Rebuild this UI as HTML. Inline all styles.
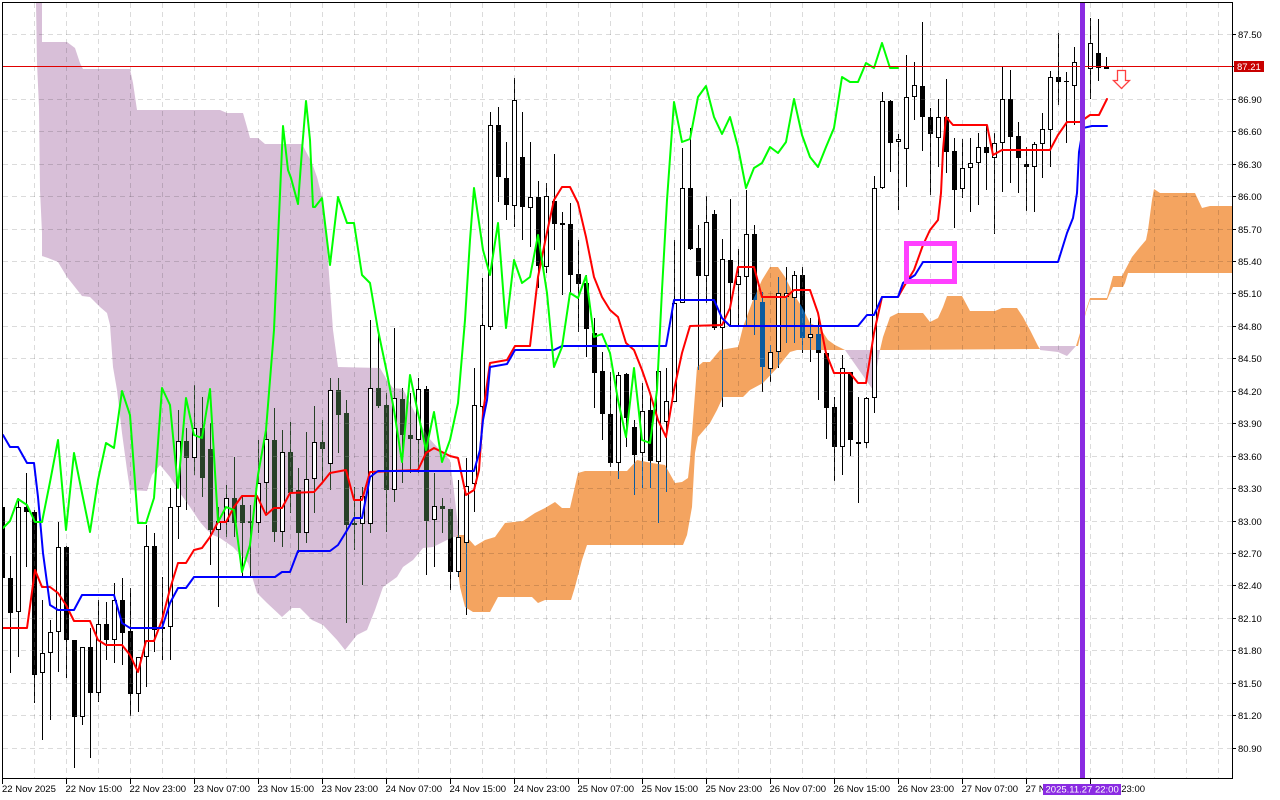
<!DOCTYPE html>
<html><head><meta charset="utf-8"><style>
html,body{margin:0;padding:0;background:#fff;width:1280px;height:800px;overflow:hidden}
svg{display:block}
text{font-family:"Liberation Sans",Arial,sans-serif;font-size:9.5px;fill:#000}
</style></head><body>
<svg width="1280" height="800" viewBox="0 0 1280 800" xmlns="http://www.w3.org/2000/svg">
<rect x="0" y="0" width="1280" height="800" fill="#fff"/>
<!-- purple cloud -->
<polygon fill="#d8bfd8" points="36,3 42,3 42,42 67,42 75,48 80,63 83,69 130,69 133,83 137,110 220,110 227,113 243,113 247,127 250,138 258,138 265,144 302,144 312,163 317,177 322,197 325,217 328,260 333,330 338,367 380,368 387,380 393,388 403,389 417,417 428,437 437,447 445,455 450,460 453,483 457,517 459,537 453,537 443,542 433,547 423,548 413,560 403,567 397,577 383,587 375,610 367,630 357,635 345,650 337,640 323,625 312,620 300,608 292,608 282,617 267,603 257,593 248,563 233,547 220,538 213,535 207,530 200,522 190,507 180,493 170,477 160,465 152,475 147,491 130,490 127,470 122,433 117,390 113,367 110,325 107,313 100,307 90,297 82,296 67,277 58,262 48,258 42,256 42,233 40,190 39,107 37,63"/>
<!-- orange clouds -->
<polygon fill="#f4a460" points="457,535 465,535 475,546 485,540 495,537 505,523 523,521 535,513 545,508 555,502 562,508 570,508 573,495 578,473 585,471 627,471 637,460 652,463 665,465 675,483 682,482 688,478 690,460 693,420 697,367 703,362 710,362 720,350 738,347 743,327 753,300 762,280 770,267 778,267 785,277 793,293 802,307 810,323 820,328 828,340 835,345 845,350 797,350 790,352 777,368 763,383 750,390 743,397 723,397 717,410 710,423 698,437 695,453 692,507 687,535 683,545 587,545 582,560 575,587 571,600 545,600 538,603 532,597 498,597 490,612 473,612 465,607 460,587 457,560"/>
<polygon fill="#f4a460" points="880,350 883,337 890,317 898,313 923,313 930,322 938,318 943,307 947,296 962,296 970,311 995,311 1002,308 1017,308 1023,317 1030,330 1038,346 1040,349 880,350"/>
<polygon fill="#d8bfd8" points="845,350 880,350 873,390"/>
<polygon fill="#d8bfd8" points="1040,346 1076,346 1067,356 1058,352 1040,350"/>
<polygon fill="#f4a460" points="1076,346 1080,333 1086,310 1090,298 1107,298 1113,276 1122,276 1132,257 1140,247 1146,240 1148,230 1152,200 1154,189 1160,193 1195,193 1202,208 1210,206 1232,206 1232,273 1128,273 1125,283 1123,287 1113,287 1110,293 1107,300 1090,300 1086,312 1078,346"/>
<!-- grid -->
<g stroke="rgba(0,0,0,0.14)" stroke-width="1" stroke-dasharray="5 4" fill="none">
<path d="M3 34.5H1232M3 66.5H1232M3 99.5H1232M3 131.5H1232M3 164.5H1232M3 196.5H1232M3 229.5H1232M3 261.5H1232M3 293.5H1232M3 326.5H1232M3 358.5H1232M3 391.5H1232M3 423.5H1232M3 456.5H1232M3 488.5H1232M3 521.5H1232M3 553.5H1232M3 585.5H1232M3 618.5H1232M3 650.5H1232M3 683.5H1232M3 715.5H1232M3 748.5H1232"/>
<path d="M34.5 3V778M66.5 3V778M98.5 3V778M130.5 3V778M162.5 3V778M194.5 3V778M226.5 3V778M258.5 3V778M290.5 3V778M322.5 3V778M354.5 3V778M386.5 3V778M418.5 3V778M450.5 3V778M482.5 3V778M514.5 3V778M546.5 3V778M578.5 3V778M610.5 3V778M642.5 3V778M674.5 3V778M706.5 3V778M738.5 3V778M770.5 3V778M802.5 3V778M834.5 3V778M866.5 3V778M898.5 3V778M930.5 3V778M962.5 3V778M994.5 3V778M1026.5 3V778M1058.5 3V778M1090.5 3V778M1122.5 3V778M1154.5 3V778M1186.5 3V778M1218.5 3V778"/>
</g>
<!-- candles -->
<g id="cf" fill="#fff"></g>
<g id="cd" fill="#fff" style="mix-blend-mode:difference"></g>
<!-- ichimoku lines -->
<g fill="none" stroke-width="2" stroke-linejoin="round" stroke-linecap="round">
<polyline stroke="#ff0000" points="3,628 27,628 35,570 42,587 50,587 58,593 66,605 74,621 90,621 98,640 106,645 122,645 130,655 138,672 146,641 154,641 162,620 170,589 178,563 186,563 194,550 202,548 210,537 218,522 226,522 234,507 242,496 257,496 266,515 274,508 282,508 290,493 314,492 322,483 330,473 346,470 354,500 362,500 370,472 418,470 426,453 434,448 442,452 450,456 458,458 466,495 474,490 479,470 483,413 490,363 507,360 515,346 530,346 538,277 546,237 554,200 562,187 570,187 578,203 586,237 594,277 602,297 610,310 618,317 626,343 634,350 642,370 650,393 658,420 666,437 674,390 682,353 690,326 722,325 730,308 738,267 754,267 762,297 786,297 794,290 810,290 818,313 826,353 834,373 850,373 858,383 866,383 874,333 882,297 898,297 906,283 914,270 923,245 930,230 938,220 941,193 943,150 946,117 953,125 987,125 993,155 1002,150 1050,150 1058,135 1067,122 1080,122 1090,115 1099,115 1107,99"/>
<polyline stroke="#0000ff" points="3,435 10,447 18,447 27,463 34,463 38,497 43,553 50,605 58,610 74,610 82,595 114,595 122,623 130,628 162,628 170,603 178,588 186,588 194,577 275,577 282,572 290,572 298,551 330,551 338,545 346,532 354,518 362,518 370,477 378,471 474,471 480,450 483,420 487,400 490,367 507,364 515,350 554,350 562,346 666,346 674,300 714,300 722,318 730,326 858,326 867,315 874,315 882,297 898,297 903,283 915,275 923,262 1058,262 1067,233 1073,218 1077,193 1079,152 1083,128 1092,126 1107,126"/>
<polyline stroke="#00ff00" points="3,528 10,521 18,499 27,505 35,522 42,522 50,482 58,440 66,530 74,453 82,493 90,532 98,480 106,443 114,448 122,391 130,415 138,523 146,523 154,498 162,388 170,405 178,488 186,398 194,435 202,438 210,389 218,522 226,507 234,510 242,572 250,545 258,475 266,430 274,330 283,126 288,170 291,178 298,204 302,150 306,101 310,140 313,207 315,207 322,198 330,265 338,197 347,223 354,223 362,275 370,283 378,330 387,373 394,410 402,462 410,375 418,413 426,450 434,412 442,462 450,440 458,403 465,320 470,240 474,188 483,250 490,275 498,223 506,328 514,260 522,283 530,277 538,235 547,293 554,367 562,347 570,293 578,298 586,276 594,337 602,334 610,353 618,400 626,437 634,368 642,440 650,443 657,390 662,290 667,200 674,102 682,142 690,139 698,97 706,86 714,117 722,134 730,117 738,147 746,188 754,168 762,163 770,147 778,153 786,142 794,99 802,135 810,157 818,167 826,147 834,128 842,77 850,82 858,82 866,63 874,68 882,43 890,68 898,68"/>
</g>
<!-- bid line -->
<line x1="3" y1="66.5" x2="1232" y2="66.5" stroke="#e00000" stroke-width="1"/>
<!-- magenta box -->
<rect x="906.5" y="243.5" width="48" height="38" fill="none" stroke="#ff40ff" stroke-width="5"/>
<!-- arrow -->
<path d="M1117.5,70.5 H1125.5 V80.5 H1129.5 L1121.5,88.5 L1113.5,80.5 H1117.5 Z" fill="#fff" stroke="#ff4040" stroke-width="1.3"/>
<!-- vertical purple line -->
<rect x="1080" y="3" width="5" height="775" fill="#8a2be2"/>
<!-- frame -->
<rect x="2.5" y="2.5" width="1230" height="776" fill="none" stroke="#000" stroke-width="1"/>
<!-- right axis ticks -->
<path stroke="#000" stroke-width="1" d="M1232 34.5H1236M1232 66.5H1236M1232 99.5H1236M1232 131.5H1236M1232 164.5H1236M1232 196.5H1236M1232 229.5H1236M1232 261.5H1236M1232 293.5H1236M1232 326.5H1236M1232 358.5H1236M1232 391.5H1236M1232 423.5H1236M1232 456.5H1236M1232 488.5H1236M1232 521.5H1236M1232 553.5H1236M1232 585.5H1236M1232 618.5H1236M1232 650.5H1236M1232 683.5H1236M1232 715.5H1236M1232 748.5H1236"/>
<g>
<text x="1238" y="38">87.50</text>
<text x="1238" y="103">86.90</text>
<text x="1238" y="135">86.60</text>
<text x="1238" y="168">86.30</text>
<text x="1238" y="200">86.00</text>
<text x="1238" y="233">85.70</text>
<text x="1238" y="265">85.40</text>
<text x="1238" y="297">85.10</text>
<text x="1238" y="330">84.80</text>
<text x="1238" y="362">84.50</text>
<text x="1238" y="395">84.20</text>
<text x="1238" y="427">83.90</text>
<text x="1238" y="460">83.60</text>
<text x="1238" y="492">83.30</text>
<text x="1238" y="525">83.00</text>
<text x="1238" y="557">82.70</text>
<text x="1238" y="589">82.40</text>
<text x="1238" y="622">82.10</text>
<text x="1238" y="654">81.80</text>
<text x="1238" y="687">81.50</text>
<text x="1238" y="719">81.20</text>
<text x="1238" y="752">80.90</text>
</g>
<rect x="1234" y="61" width="30" height="11" fill="#c80000"/>
<text x="1237" y="70" style="fill:#fff">87.21</text>
<!-- bottom axis ticks -->
<path stroke="#000" stroke-width="1" d="M2.5 779V784M66.5 779V784M130.5 779V784M194.5 779V784M258.5 779V784M322.5 779V784M386.5 779V784M450.5 779V784M514.5 779V784M578.5 779V784M642.5 779V784M706.5 779V784M770.5 779V784M834.5 779V784M898.5 779V784M962.5 779V784M1026.5 779V784M1090.5 779V784"/>
<g>
<text x="2" y="792">22 Nov 2025</text>
<text x="65.5" y="792">22 Nov 15:00</text>
<text x="129.5" y="792">22 Nov 23:00</text>
<text x="193.5" y="792">23 Nov 07:00</text>
<text x="257.5" y="792">23 Nov 15:00</text>
<text x="321.5" y="792">23 Nov 23:00</text>
<text x="385.5" y="792">24 Nov 07:00</text>
<text x="449.5" y="792">24 Nov 15:00</text>
<text x="513.5" y="792">24 Nov 23:00</text>
<text x="577.5" y="792">25 Nov 07:00</text>
<text x="641.5" y="792">25 Nov 15:00</text>
<text x="705.5" y="792">25 Nov 23:00</text>
<text x="769.5" y="792">26 Nov 07:00</text>
<text x="833.5" y="792">26 Nov 15:00</text>
<text x="897.5" y="792">26 Nov 23:00</text>
<text x="961.5" y="792">27 Nov 07:00</text>
<text x="1025.5" y="792">27 Nov 15:00</text>
<text x="1088.5" y="792">27 Nov 23:00</text>
</g>
<rect x="1043" y="784" width="78" height="11" fill="#8a2be2"/>
<text x="1045.5" y="792.5" style="fill:#fff">2025.11.27 22:00</text>
</svg>
<script>
(function(){
var D=[
[507,578,505,595,0],[578,613,556,673,0],[507,612,498,657,1],[507,512,473,567,0],[512,675,510,703,0],
[653,673,600,740,1],[632,653,620,720,1],[547,632,522,672,1],[547,640,546,678,0],[640,717,640,768,0],
[647,717,647,725,1],[647,693,628,758,0],[624,693,600,702,1],[624,640,602,660,0],[600,640,583,663,1],
[600,633,578,665,0],[631,694,588,716,0],[657,694,657,712,1],[546,657,525,687,1],[546,630,533,652,0],
[627,629,577,660,0],[507,627,488,660,1],[441,507,410,539,1],[441,458,428,510,0],[428,458,385,475,1],
[428,478,397,497,0],[449,530,423,565,0],[521,530,507,607,1],[498,522,485,537,1],[498,523,457,537,0],
[505,523,497,578,0],[521,523,505,578,0],[483,523,440,533,1],[439,483,427,513,1],[440,532,408,542,0],
[452,532,430,547,1],[452,493,422,513,0],[490,533,468,553,0],[479,533,432,543,1],[442,479,406,513,1],
[442,449,420,482,0],[390,464,378,490,1],[390,415,378,453,0],[413,525,400,623,0],[523,525,487,550,0],
[496,524,487,585,1],[388,524,320,533,1],[388,406,335,408,0],[405,490,393,532,0],[398,490,328,502,1],
[399,435,388,483,0],[435,439,393,473,0],[389,440,378,473,1],[389,521,386,575,0],[506,520,473,567,1],
[506,509,498,533,0],[509,572,509,590,0],[537,572,480,577,1],[486,543,458,615,1],[405,484,368,512,1],
[325,407,278,413,1],[125,327,112,330,1],[125,177,107,202,0],[178,205,142,220,0],[100,206,78,227,1],
[157,207,112,240,0],[197,208,142,247,1],[197,266,181,288,0],[196,267,183,273,1],[201,224,154,250,0],
[223,225,212,295,0],[224,275,203,293,0],[274,284,240,332,0],[283,329,275,357,0],[333,373,318,408,0],
[371,414,352,440,0],[414,463,372,467,0],[375,463,372,479,1],[374,418,373,447,0],[427,455,420,495,0],
[411,453,383,488,1],[410,461,393,488,0],[371,462,367,523,1],[401,422,368,492,1],[303,402,240,402,1],
[188,303,148,303,1],[188,249,128,250,0],[248,276,225,370,0],[222,276,196,303,1],[214,328,210,330,0],
[259,328,239,407,1],[260,283,199,327,0],[276,285,249,327,1],[234,277,190,327,1],[234,300,225,335,0],
[302,367,292,392,0],[352,369,345,382,1],[293,352,277,368,1],[293,297,267,343,1],[275,298,271,343,1],
[275,338,267,353,0],[334,338,318,362,1],[334,353,318,400,0],[353,408,352,439,0],[407,447,397,481,0],
[368,447,355,475,1],[372,440,372,456,0],[442,444,397,503,0],[398,443,397,448,1],[188,398,176,413,1],
[101,188,92,189,1],[101,143,100,172,0],[139,142,134,210,1],[97,149,55,187,1],[85,97,62,120,1],
[86,117,22,151,0],[117,134,108,195,0],[117,138,99,167,1],[117,152,79,173,0],[151,190,138,228,0],
[168,189,139,198,1],[163,168,138,212,1],[147,163,133,205,1],[147,153,125,190,0],[143,158,133,234,1],
[99,143,67,192,1],[99,137,70,183,0],[136,158,122,193,0],[164,167,147,211,0],[144,167,142,212,1],
[129,144,113,178,1],[77,130,71,167,1],[77,82,33,105,0],[81,82,72,143,0],[62,86,47,125,1],
[62,70,50,100,1],[43,69,18,99,1],[53,68,19,81,0],[67,69,57,69,1]
];
var f='',d='';
function r(x,y,w,h){if(x<3){w-=3-x;x=3;} if(w<=0||h<=0)return '';return '<rect x="'+x+'" y="'+y+'" width="'+w+'" height="'+h+'"/>';}
for(var k=0;k<D.length;k++){
 var c=D[k],cx=2.5+8*k,t=c[0],b=c[1],h=c[2],l=c[3],u=c[4];
 if(b-t<1)b=t+1;
 var bx=cx-2.5;
 if(t>h)d+=r(cx-0.5,h,1,t-h);
 if(l>b)d+=r(cx-0.5,b,1,l-b);
 if(u){
  f+=r(bx,t,5,b-t);
  d+=r(bx,t,5,1)+r(bx,b-1,5,1)+r(bx,t,1,b-t)+r(bx+4,t,1,b-t);
 } else {
  d+=r(bx,t,5,b-t);
 }
}
document.getElementById('cf').innerHTML=f;
document.getElementById('cd').innerHTML=d;
})();
</script>
</body></html>
